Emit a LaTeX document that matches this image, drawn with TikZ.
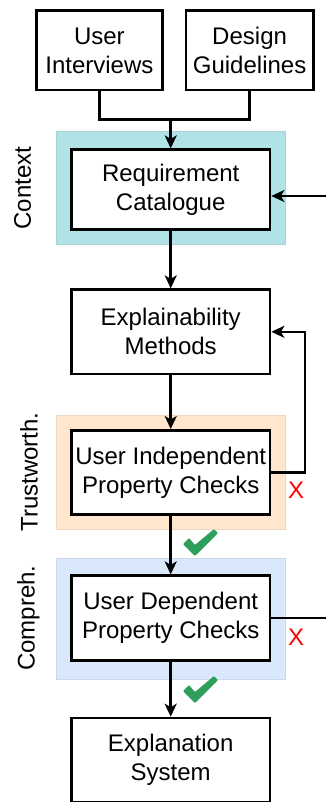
\documentclass[tikz,border=0pt]{standalone}
\usepackage{fontspec}
\setmainfont{Liberation Sans}
\usetikzlibrary{arrows.meta}
\definecolor{ctxfill}{HTML}{B0E3E6}
\definecolor{trustfill}{HTML}{FFE6CC}
\definecolor{compfill}{HTML}{DAE8FC}
\definecolor{checkgreen}{HTML}{2E9E5B}
\begin{document}
\begin{tikzpicture}[x=1pt,y=-1pt,
  box/.style={draw, line width=2.6pt, fill=white, align=center, inner sep=0pt,
    font=\fontsize{24}{29}\selectfont},
  wide/.style={minimum width=198.7pt, minimum height=80pt},
  band/.style={inner sep=0pt, line width=0.6pt},
  conn/.style={line width=2.5pt},
  arr/.style={conn, -{Stealth[length=13pt, width=12pt, inset=3.5pt]}},
  lbl/.style={rotate=90, inner sep=0pt, font=\fontsize{24}{29}\selectfont},
  cross/.style={text=red, inner sep=0pt, font=\fontsize{24}{29}\selectfont},
  checkmark/.pic={\fill[checkgreen, rounded corners=0.8pt] (-17,1) -- (-11,-5) -- (-5,2) -- (14,-14) -- (18,-10) -- (-5,13) -- cycle;}
]
\useasboundingbox (0,0) rectangle (326,802);

% bands
\node[band, fill=ctxfill, draw=ctxfill!85!gray, minimum width=228.3pt, minimum height=113.3pt] (ctxband) at (170.8,187.7) {};
\node[band, fill=trustfill, draw=trustfill!85!gray, minimum width=228.3pt, minimum height=113.3pt] (trustband) at (170.8,472.3) {};
\node[band, fill=compfill, draw=compfill!85!gray, minimum width=228.3pt, minimum height=120.7pt] (compband) at (170.8,618.6) {};

% boxes
\node[box, minimum width=125.8pt, minimum height=79.2pt] (ui) at (99.4,50.4) {User\\Interviews};
\node[box, minimum width=127.5pt, minimum height=79.2pt] (dg) at (249.6,50.4) {Design\\Guidelines};
\node[box, wide] (req) at (170.7,189.7) {Requirement\\Catalogue};
\node[box, wide, minimum height=84.3pt] (expl) at (170.7,331.8) {Explainability\\Methods};
\node[box, wide, minimum height=84.4pt] (uipc) at (170.7,472.5) {User Independent\\Property Checks};
\node[box, wide, minimum height=85pt] (udpc) at (170.7,618.2) {User Dependent\\Property Checks};
\node[box, wide, minimum height=84pt] (es) at (170.7,760) {Explanation\\System};

% side labels
\node[lbl] (lctx) at (22.5,188) {Context};
\node[lbl] (ltrust) at (29,472) {Trustworth.};
\node[lbl] (lcomp) at (28.5,618) {Compreh.};

% coordinates
\coordinate (join) at (170.7,119.7);
\coordinate (loopB) at (305,331.8);
\coordinate (rt) at (327,196);

% connectors
\draw[conn] (ui.south) |- (join) -| (dg.south);
\draw[arr] (join) -- (req.north);
\draw[arr] (req) -- (expl);
\draw[arr] (expl) -- (uipc);
\draw[arr] (uipc) -- (udpc);
\draw[arr] (udpc) -- (es);
\draw[arr] (uipc.east) -| (loopB) -- (expl.east);
\draw[arr] (udpc.east) -| (rt) -- (rt -| req.east);

% marks
\node[cross] (x1) at (296,490) {X};
\node[cross] (x2) at (296,637) {X};
\pic (ok1) at (200,543) {checkmark};
\pic (ok2) at (200,690) {checkmark};
\end{tikzpicture}
\end{document}
